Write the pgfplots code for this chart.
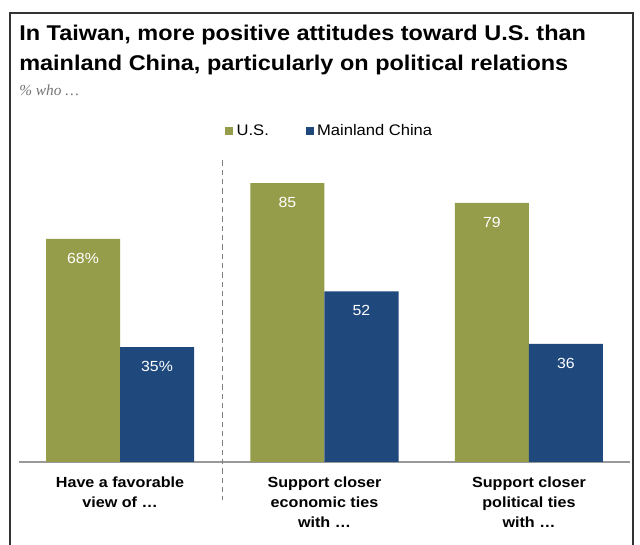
\documentclass[border=0pt]{standalone}
\usepackage{fontspec}
\setmainfont{Liberation Sans}
\newfontfamily\wideb[FakeStretch=1.1]{Liberation Sans Bold}
\newfontfamily\wider[FakeStretch=1.08]{Liberation Sans}
\newfontfamily\serifit{Liberation Serif Italic}
\usepackage{pgfplots}
\pgfplotsset{compat=1.18}
\definecolor{usgreen}{HTML}{959D4A}
\definecolor{cnblue}{HTML}{1F497D}
\begin{document}
\begin{tikzpicture}
\useasboundingbox (0,0) rectangle (480pt,408.75pt);
\fill[white] (0,0) rectangle (480pt,408.75pt);
\draw[line width=1.2pt, black!80] (7.5pt,-2pt) -- (7.5pt,399pt) -- (474.75pt,399pt) -- (474.75pt,-2pt);
\node[anchor=base west, inner sep=0pt, font=\wideb\fontsize{16}{20}\selectfont] at (14.25pt,378pt) {In Taiwan, more positive attitudes toward U.S. than};
\node[anchor=base west, inner sep=0pt, font=\wideb\fontsize{16}{20}\selectfont] at (14.25pt,355.5pt) {mainland China, particularly on political relations};
\node[anchor=base west, inner sep=0pt, font=\serifit\fontsize{11.5}{13}\selectfont, text=black!55] at (14.25pt,336.75pt) {\% who \dots};
\begin{axis}[
  at={(14.25pt,62.25pt)}, anchor=south west,
  scale only axis, width=458.25pt, height=234pt,
  xmin=-0.494, xmax=2.494, ymin=0, ymax=95.12,
  ybar=0pt, bar width=55.5pt,
  axis x line=bottom, axis y line=none,
  axis line style={black!40, line width=0.8pt, -},
  xtick={0,1,2}, major tick length=0pt,
  xticklabels={{Have a favorable\\view of \dots},{Support closer\\economic ties\\with \dots},{Support closer\\political ties\\with \dots}},
  xticklabel style={align=center, font=\wideb\fontsize{11}{15}\selectfont, yshift=-8pt},
  clip=false,
  point meta=explicit symbolic,
  nodes near coords,
  every node near coord/.append style={anchor=center, yshift=-14.6pt, text=white, font=\wider\fontsize{11}{12}\selectfont},
  legend style={at={(0.337,1.061)}, anchor=west, draw=none, fill=none, font=\wider\fontsize{11.5}{13}\selectfont, legend columns=2, column sep=0pt, inner sep=0pt,
    /tikz/every even column/.append style={column sep=25pt},
    nodes={inner sep=2.6pt}},
  legend image code/.code={\fill[#1] (0pt,-3.2pt) rectangle (6pt,3.2pt);},
]
\addplot[fill=usgreen, draw=none] table[meta=label] {
x y label
0 68 68\%
1 85 85
2 79 79
};
\addplot[fill=cnblue, draw=none] table[meta=label] {
x y label
0 35 35\%
1 52 52
2 36 36
};
\legend{U.S., Mainland China}
\draw[black!50, dash pattern=on 4pt off 3pt, line width=0.7pt] (axis cs:0.5,92) -- (axis cs:0.5,-11.6);
\end{axis}
\end{tikzpicture}
\end{document}
